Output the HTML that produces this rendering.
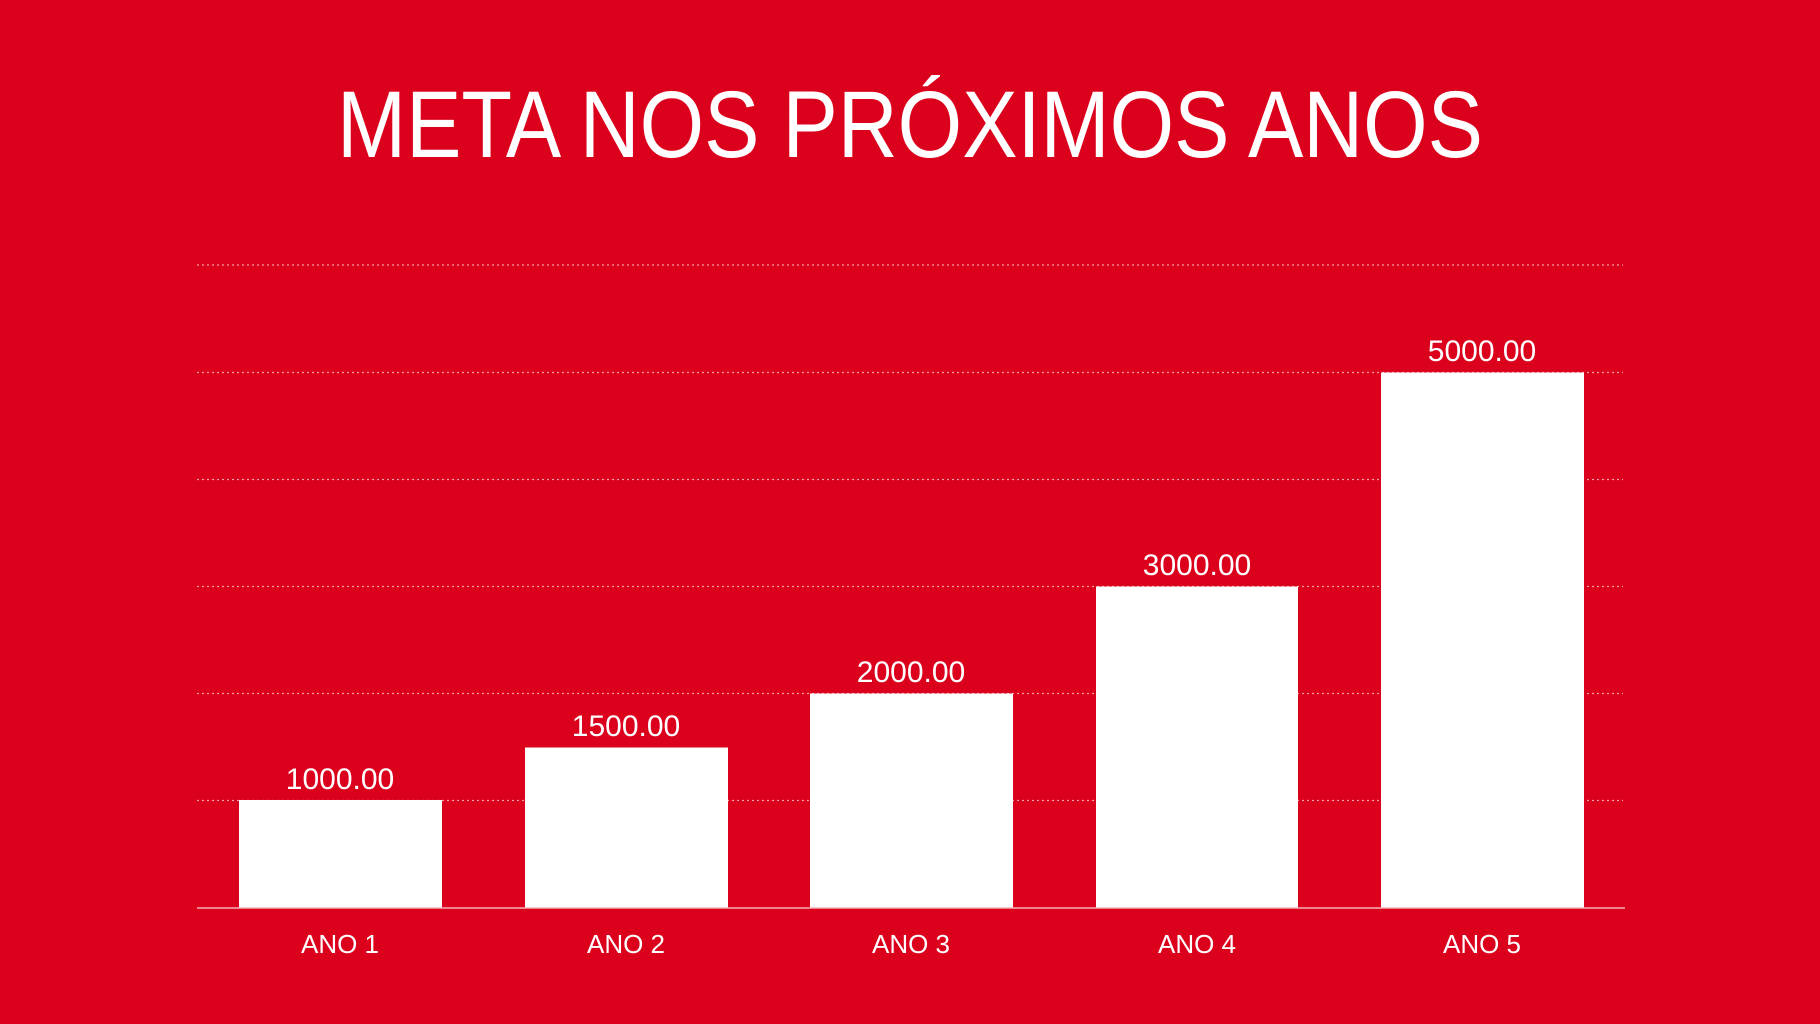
<!DOCTYPE html>
<html><head><meta charset="utf-8"><style>
html,body{margin:0;padding:0;background:#db001b;}
svg{display:block;}
text{font-family:"Liberation Sans","DejaVu Sans",sans-serif;fill:#fff;}
</style></head><body>
<svg width="1820" height="1024" viewBox="0 0 1820 1024" xmlns="http://www.w3.org/2000/svg">
<rect width="1820" height="1024" fill="#db001b"/>
<text x="910" y="157" font-size="95" text-anchor="middle" textLength="1146" lengthAdjust="spacingAndGlyphs">META NOS PRÓXIMOS ANOS</text>
<g stroke="#f3a0a8" stroke-width="1.3" stroke-dasharray="2 3">
<line x1="197" y1="265" x2="1623" y2="265"/>
<line x1="197" y1="372.5" x2="1623" y2="372.5"/>
<line x1="197" y1="479.5" x2="1623" y2="479.5"/>
<line x1="197" y1="586.5" x2="1623" y2="586.5"/>
<line x1="197" y1="693.5" x2="1623" y2="693.5"/>
<line x1="197" y1="800.5" x2="1623" y2="800.5"/>
</g>
<g fill="#fff">
<rect x="239" y="800" width="203" height="108"/>
<rect x="525" y="747.5" width="203" height="160.5"/>
<rect x="810" y="693.5" width="203" height="214.5"/>
<rect x="1096" y="586.5" width="202" height="321.5"/>
<rect x="1381" y="372.5" width="203" height="535.5"/>
</g>
<line x1="197" y1="908" x2="1625" y2="908" stroke="#f3b0b6" stroke-width="1.5"/>
<g font-size="30" text-anchor="middle">
<text x="340" y="789">1000.00</text>
<text x="626" y="736">1500.00</text>
<text x="911" y="682">2000.00</text>
<text x="1197" y="575">3000.00</text>
<text x="1482" y="361">5000.00</text>
</g>
<g font-size="26" text-anchor="middle">
<text x="340" y="953">ANO 1</text>
<text x="626" y="953">ANO 2</text>
<text x="911" y="953">ANO 3</text>
<text x="1197" y="953">ANO 4</text>
<text x="1482" y="953">ANO 5</text>
</g>
</svg>
</body></html>
